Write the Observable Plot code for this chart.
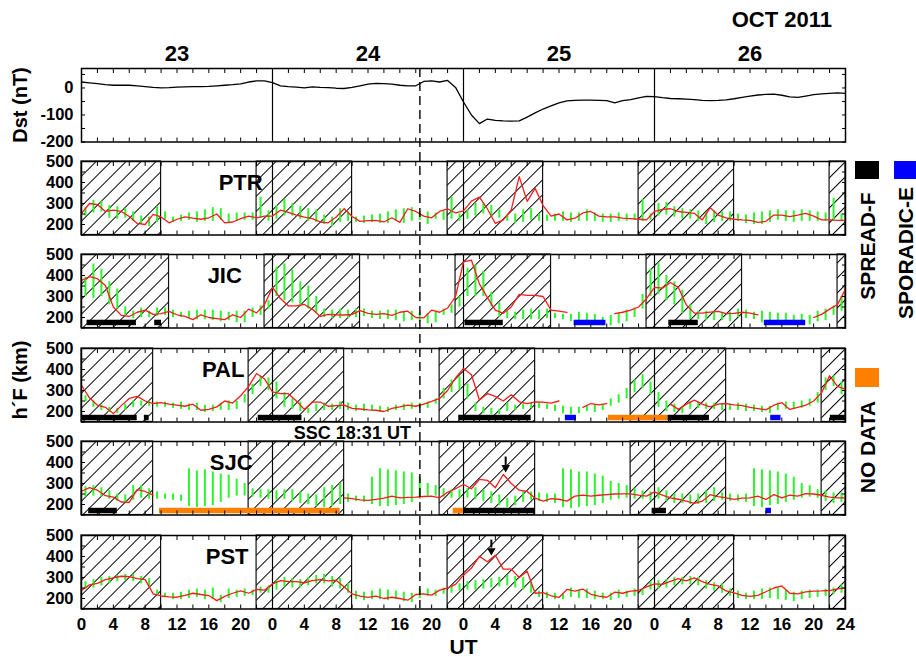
<!DOCTYPE html>
<html><head><meta charset="utf-8">
<script src="https://cdn.jsdelivr.net/npm/d3@7"></script>
<script src="https://cdn.jsdelivr.net/npm/@observablehq/plot@0.6"></script>
<style>
body{margin:0;background:#fff;}
#wrap{position:relative;width:916px;height:657px;overflow:hidden;background:#fff;font-family:"Liberation Sans",Arial,Helvetica,sans-serif;font-weight:bold;color:#000;}
.lab{position:absolute;white-space:nowrap;line-height:1;}
.rot{transform:translate(-50%,-50%) rotate(-90deg);}
.sw{position:absolute;}
</style></head><body><div id="wrap"></div>
<script>
// ---------------- DATA ----------------
const days = ["23", "24", "25", "26"];
const sscHour = 42.52; // 24 Oct 18:31 UT
const dayBounds = [24, 48, 72];

// Dst (nT), hourly 0..96
const dst = [22,19,16,12,10,10,10,8,5,2, 0,1,3,4,5,5,6,8,10,12, 15,22,26,26,20,8,5,3,0,4, 2,1,-1,-2,2,8,14,17,16,14,
 10,8,8,24,26,22,28,2,-52,-100, -132,-115,-120,-122,-123,-122,-108,-92,-78,-66, -55,-48,-46,-45,-45,-46,-47,-55,-47,-43,
 -37,-31,-32,-36,-39,-40,-41,-43,-46,-47, -46,-44,-40,-35,-30,-26,-24,-23,-27,-33, -35,-30,-25,-22,-20,-18,-20];

// PTR
const ptrRed = [253,300,295,262,268,262,238,205,200,248, 236,208,225,236,230,225,232,250,208,212, 228,240,232,240,240,268,258,245,235,228,
 212,208,236,275,238,215,218,220,212,232, 210,275,262,240,232,262,275,255,265,311, 330,275,205,222,270,428,310,372,290,240,
 250,222,230,255,262,240,236,236,230,228, 225,222,262,272,275,262,258,253,222,280, 245,232,225,222,220,210,215,245,245,238,
 245,253,240,222,222,220,220];
const ptrLo = [240,255,260,230,225,230,215,200,190,210, 225,210,215,220,210,215,215,220,205,215, 220,220,230,215,225,240,240,225,215,210,
 200,190,210,215,210,205,210,205,205,215, 205,215,220,200,225,220,225,215,225,240, 250,235,230,215,205,210,220,215,215,215,
 215,210,215,215,215,210,210,215,215,220, 215,220,240,245,235,225,225,215,200,210, 215,215,215,205,200,200,210,220,215,210,
 215,215,215,215,215,215];
const ptrHi = [280,315,310,290,285,275,260,240,235,285, 260,235,245,255,260,270,280,275,250,255, 255,255,330,265,290,320,300,285,275,270,
 245,235,275,260,235,240,245,250,260,270, 275,280,260,260,255,265,330,250,270,300, 300,290,270,245,250,270,275,250,245,250,
 260,255,255,270,255,250,250,255,250,250, 320,250,300,305,285,275,270,265,255,265, 260,260,250,245,255,260,265,270,265,265,
 270,265,260,255,325,250];
const ptrNight = [[0,10],[22,34],[46,58],[70,82],[94,96]];

// JIC
const jicRed = [376,395,385,352,250,210,205,225,235,215, 218,229,213,205,190,213,200,195,190,213, 200,240,222,262,343,290,255,255,262,240,
 205,215,213,212,215,233,220,215,218,210, 225,230,200,198,235,225,245,300,465,473, 360,295,235,220,250,310,305,305,300,235,
 230,224,null,null,null,null,null,218,225,235, 250,290,343,340,367,343,260,221,221,226, 229,218,220,225,221,213,null,null,null,null,
 null,null,200,215,240,262,335];
const jicLo = [300,290,300,260,240,205,195,200,200,205, 210,200,200,195,190,190,185,180,185,175, 175,200,210,240,300,280,270,250,240,220,
 200,195,195,195,200,205,195,190,190,185, 180,185,180,170,175,210,220,250,300,300, 300,250,200,195,190,190,190,190,195,195,
 190,180,175,175,170,160,160,170,180,200, 240,300,310,280,260,220,190,190,185,185, 185,180,200,195,190,175,175,175,170,165,
 165,165,180,185,210,230];
const jicHi = [390,455,430,370,335,250,230,245,230,245, 245,235,225,230,235,235,235,230,225,230, 230,245,255,280,440,455,425,370,350,300,
 240,235,240,235,240,240,230,230,235,235, 225,230,225,220,225,240,260,300,435,450, 420,320,270,230,225,235,240,235,240,220,
 215,215,225,220,215,200,210,220,235,245, 310,430,460,400,370,330,260,230,230,230, 225,225,240,235,225,230,225,220,220,210,
 215,210,230,240,255,300];
const jicNight = [[0,11],[23,35],[47,59],[71,83],[95,96]];
const jicSpreadF = [[0.7,6.9],[9.2,10.05],[48.2,53],[73.8,77.5]];
const jicSporadicE = [[61.9,65.9],[85.8,91]];
const jicNoData = [];

// PAL
const palRed = [325,265,230,220,190,228,262,272,250,238, 242,235,230,225,235,206,210,222,250,240, 275,320,381,355,293,285,285,250,210,245,
 245,225,228,230,215,212,208,206,200,215, 222,230,225,235,248,262,300,360,405,375, 255,285,272,250,280,246,238,246,245,240,
 250,null,null,220,238,232,238,null,null,null, null,null,null,null,235,210,235,254,235,222, 235,238,232,228,220,214,208,230,242,210,
 220,230,250,290,370,320,305];
const palLo = [245,220,205,195,190,205,220,225,225,220, 220,215,210,205,205,195,200,205,205,210, 240,280,320,300,260,220,210,200,190,200,
 205,205,210,205,200,200,200,195,195,205, 205,210,215,215,235,260,290,300,260,200, 190,185,185,200,205,210,215,215,210,200,
 190,185,190,200,195,205,225,240,260,290, 310,280,220,200,195,190,210,215,210,210, 205,205,205,200,200,195,190,205,210,210,
 215,225,240,300,320,280];
const palHi = [275,250,230,220,215,235,250,250,250,245, 245,240,245,235,240,230,230,240,250,250, 280,330,370,360,340,290,260,245,215,235,
 240,235,245,240,230,235,230,225,220,230, 235,240,240,245,260,310,350,365,330,240, 220,215,210,240,230,235,240,240,235,230,
 225,220,220,225,230,235,260,280,310,350, 375,340,290,250,235,225,245,245,240,240, 235,235,240,235,230,225,225,240,245,245,
 250,260,290,360,370,340];
const palNight = [[0,9],[21,33],[45,57],[69,81],[93,96]];
const palSpreadF = [[0,7],[7.9,8.5],[22.2,27.7],[47.4,56.5],[73.7,78.9],[94.1,96]];
const palSporadicE = [[60.8,62.2],[86.6,87.9]];
const palNoData = [[66.2,73.7]];

// SJC
const sjcRed = [263,280,268,242,235,212,210,271,262,245,
 null,null,null,null,null,null,null,null,null,null, null,null,null,null,null,null,null,null,null,null, null,null,null,
 232,228,222,220,224,230,240,
 232,234,235,238,240,232,258,275,295,275, 320,315,280,343,300,268,262,230,216,228, 225,216,240,245,240,244,247,250,251,251,
 245,240,260,245,232,225,216,205,216,247, 238,232,224,230,232,240,224,247,232,245, 240,252,250,244,235,232,232];
const sjcLo = [235,240,235,225,215,205,220,230,225,225, 225,220,215,190,185,190,195,210,230,240, 240,235,230,225,220,225,215,205,200,190,
 185,190,200,210,215,210,200,190,190,195, 200,210,225,240,240,235,230,230,230,225, 215,205,195,185,195,210,220,215,210,205,
 185,180,185,190,195,205,220,225,230,225, 225,215,225,215,205,205,200,200,205,215, 220,215,215,210,190,185,195,200,210,220,
 230,235,230,215,205,210];
const sjcHi = [285,290,280,265,250,245,290,290,275,260, 250,250,245,370,360,365,355,345,340,320, 300,275,270,270,265,270,270,260,250,245,
 280,290,300,250,240,240,330,370,365,360, 355,350,330,300,290,275,270,270,275,280, 270,260,245,230,240,260,260,255,250,250,
 370,365,355,355,345,335,310,300,290,275, 265,260,280,265,250,250,245,250,265,280, 255,250,245,250,370,365,360,355,345,330,
 300,290,270,265,255,255];
const sjcNight = [[0,9],[21,33],[45,57],[69,81],[93,96]];
const sjcSpreadF = [[0.9,4.5],[48,57],[71.7,73.5]];
const sjcSporadicE = [[86,86.7]];
const sjcNoData = [[9.8,32.5],[46.7,48]];
const sjcArrow = [{hour: 53.3, from: 426, to: 386, tip: 376}];

// PST
const pstRed = [238,265,272,290,298,306,304,295,290,222, 212,208,206,215,225,219,214,190,210,225, 236,225,243,240,270,285,280,280,275,285,
 290,284,287,255,222,211,205,211,200,206, 200,192,219,222,216,240,250,267,311,345, 401,375,406,340,340,300,330,225,228,213,
 205,243,235,245,220,211,206,230,225,235, 238,255,270,267,282,295,284,298,280,267, 260,236,227,215,210,215,232,250,260,225,
 222,232,235,236,238,246,251];
const pstLo = [245,250,260,270,280,285,280,270,255,215, 205,195,195,200,205,195,195,180,200,205, 210,215,225,225,240,255,250,250,260,270,
 270,255,245,225,195,190,195,195,190,195, 185,180,200,210,210,220,225,235,240,240, 245,250,255,260,250,240,225,205,200,195,
 195,205,200,200,195,195,190,200,205,210, 215,240,245,250,260,265,265,260,245,235, 225,210,200,195,195,195,200,195,190,185,
 195,200,205,210,220,225];
const pstHi = [280,290,300,305,310,315,315,305,295,240, 225,225,230,240,245,240,250,215,245,240, 245,240,255,260,285,300,295,290,300,310,
 315,305,295,270,235,230,235,245,240,235, 230,225,245,245,240,250,260,270,280,285, 290,295,300,310,305,300,275,235,230,225,
 220,250,240,245,235,225,225,240,235,245, 245,280,285,290,300,300,305,300,285,275, 270,245,235,225,235,245,250,250,240,230,
 235,240,240,245,250,265];
const pstNight = [[0,10],[22,34],[46,58],[70,82],[94,96]];
const pstArrow = [{hour: 51.5, from: 478, to: 440, tip: 428}];

const stationNames = ["PTR", "JIC", "PAL", "SJC", "PST"];
const hfLabels = [200, 300, 400, 500];
const dstLabels = [0, -100, -200];

// ---------------- STYLE / LAYOUT ----------------
const W = 916, ML = 81, MR = 71, PH = 73.5;
const FONT = '"Liberation Sans", Arial, Helvetica, sans-serif';
const GREEN = "#2bf52b", RED = "#ff1a1a", BLUE = "#0000ff", ORANGE = "#ff8000";
const hourTicks = d3.range(0, 97, 2);
const hfTicks = d3.range(150, 501, 50);
const dstTicks = d3.range(-200, 51, 50);
const wrap = document.getElementById("wrap");
const baseStyle = {background: "transparent", overflow: "visible", fontFamily: FONT, fontWeight: "bold", color: "#000"};

// hatch pattern definition
wrap.insertAdjacentHTML("beforeend",
  '<svg width="0" height="0" style="position:absolute"><defs><pattern id="hatch" patternUnits="userSpaceOnUse" width="10.6" height="10.6" patternTransform="rotate(45)"><line x1="0.5" y1="0" x2="0.5" y2="10.6" stroke="#000" stroke-width="1"/></pattern></defs></svg>');

function place(svg, top) {
  svg.style.position = "absolute";
  svg.style.left = "0px";
  svg.style.top = top + "px";
  svg.style.maxWidth = "none";
  wrap.appendChild(svg);
}
function frameMarks(yTicks) {
  return [
    Plot.frame({stroke: "#000", strokeWidth: 1.5}),
    Plot.axisX(hourTicks, {anchor: "bottom", tickSize: -4, tickFormat: () => "", label: null}),
    Plot.axisX(hourTicks, {anchor: "top", tickSize: -4, tickFormat: () => "", label: null}),
    Plot.axisY(yTicks, {anchor: "left", tickSize: -4, tickFormat: () => "", label: null}),
    Plot.axisY(yTicks, {anchor: "right", tickSize: -4, tickFormat: () => "", label: null})
  ];
}

// ---------------- Dst panel ----------------
{
  const top = 68;
  const pts = dst.map((v, h) => ({h, v}));
  const svg = Plot.plot({
    width: W, height: top + PH + 6, marginLeft: ML, marginRight: MR, marginTop: top, marginBottom: 6,
    style: baseStyle,
    x: {domain: [0, 96]},
    y: {domain: [-200, 72]},
    marks: [
      Plot.ruleX(dayBounds, {stroke: "#000", strokeWidth: 1.2}),
      Plot.line(pts, {x: "h", y: "v", stroke: "#000", strokeWidth: 1.3}),
      ...frameMarks(dstTicks),
      Plot.axisY(dstLabels, {anchor: "left", tickSize: 0, tickPadding: 8, tickFormat: d => String(d), fontSize: 16.5, label: null}),
      Plot.text(days, {x: (d, i) => i * 24 + 12, text: d => d, frameAnchor: "top", dy: -8, lineAnchor: "bottom", fontSize: 22}),
      Plot.text(["OCT 2011"], {x: 88, frameAnchor: "top", dy: -42, lineAnchor: "bottom", fontSize: 22})
    ]
  });
  place(svg, 0);
}

// ---------------- Station panels ----------------
const stations = [
  {red: ptrRed, lo: ptrLo, hi: ptrHi, night: ptrNight, sf: [], se: [], nd: [], nameX: 20, arrow: []},
  {red: jicRed, lo: jicLo, hi: jicHi, night: jicNight, sf: jicSpreadF, se: jicSporadicE, nd: jicNoData, nameX: 18, arrow: [], band: [161, 187]},
  {red: palRed, lo: palLo, hi: palHi, night: palNight, sf: palSpreadF, se: palSporadicE, nd: palNoData, nameX: 17.8, arrow: []},
  {red: sjcRed, lo: sjcLo, hi: sjcHi, night: sjcNight, sf: sjcSpreadF, se: sjcSporadicE, nd: sjcNoData, nameX: 18.8, arrow: sjcArrow},
  {red: pstRed, lo: pstLo, hi: pstHi, night: pstNight, sf: [], se: [], nd: [], nameX: 18.3, arrow: pstArrow}
];

stations.forEach((st, i) => {
  const top = 160.7 + 93.5 * i;
  const last = i === 4;
  const mt = 24, mb = last ? 52 : 8;
  const red = st.red.map((v, h) => ({h, v: v == null ? NaN : v}));
  const bars = st.lo.map((lo, k) => ({h: k + 0.5, lo, hi: st.hi[k]}));
  const band = st.band || [156, 182];
  const bandMarks = [[st.nd, ORANGE], [st.sf, "#000"], [st.se, BLUE]].map(([arr, c]) =>
    Plot.rect(arr, {x1: d => d[0], x2: d => d[1], y1: band[0], y2: band[1], fill: c}));
  const marks = [
    Plot.rect(st.night, {x1: d => d[0], x2: d => d[1], y1: 150, y2: 500, fill: "url(#hatch)", stroke: "#111", strokeWidth: 1.2}),
    Plot.ruleX(dayBounds, {stroke: "#000", strokeWidth: 1.2}),
    Plot.ruleX(bars, {x: "h", y1: "lo", y2: "hi", stroke: GREEN, strokeWidth: 2}),
    Plot.line(red, {x: "h", y: "v", stroke: RED, strokeWidth: 1.3}),
    ...bandMarks,
    ...frameMarks(hfTicks),
    Plot.axisY(hfLabels, {anchor: "left", tickSize: 0, tickPadding: 8, tickFormat: d => String(d), fontSize: 16.5, label: null}),
    Plot.text([stationNames[i]], {x: st.nameX, y: 400, lineAnchor: "middle", fontSize: 22}),
    Plot.ruleX(st.arrow, {x: "hour", y1: "from", y2: "to", stroke: "#000", strokeWidth: 2}),
    Plot.dot(st.arrow, {x: "hour", y: "tip", symbol: "triangle", rotate: 180, r: 3.2, fill: "#000", stroke: null})
  ];
  if (i === 3) marks.push(Plot.text(["SSC 18:31 UT"], {x: sscHour, frameAnchor: "top", textAnchor: "end", dx: -9, dy: -3, lineAnchor: "bottom", fontSize: 18}));
  if (last) {
    marks.push(Plot.axisX(d3.range(0, 97, 4), {anchor: "bottom", tickSize: 0, tickPadding: 9, tickFormat: d => d === 96 ? "24" : String(d % 24), fontSize: 17, label: null}));
    marks.push(Plot.text(["UT"], {x: 48, frameAnchor: "bottom", dy: 45, lineAnchor: "bottom", fontSize: 21}));
  }
  const svg = Plot.plot({
    width: W, height: mt + PH + mb, marginLeft: ML, marginRight: MR, marginTop: mt, marginBottom: mb,
    style: baseStyle,
    x: {domain: [0, 96]},
    y: {domain: [150, 500]},
    marks
  });
  place(svg, top - mt);
});

// ---------------- SSC dashed line overlay ----------------
{
  const top = 68, bottom = 160.7 + 93.5 * 4 + PH;
  const svg = Plot.plot({
    width: W, height: bottom - top, marginLeft: ML, marginRight: MR, marginTop: 0, marginBottom: 0,
    style: {...baseStyle, pointerEvents: "none"},
    x: {domain: [0, 96], axis: null},
    marks: [Plot.ruleX([sscHour], {stroke: "#000", strokeWidth: 1.4, strokeDasharray: "9,5"})]
  });
  place(svg, top);
}

// ---------------- labels & legend (HTML) ----------------
function label(text, cx, cy, size, rot) {
  const d = document.createElement("div");
  d.className = "lab" + (rot ? " rot" : "");
  d.textContent = text;
  d.style.fontSize = size + "px";
  d.style.left = cx + "px";
  d.style.top = cy + "px";
  if (!rot) d.style.transform = "translate(-50%,-50%)";
  wrap.appendChild(d);
}
function swatch(color, x, y, w, h) {
  const d = document.createElement("div");
  d.className = "sw";
  Object.assign(d.style, {left: x + "px", top: y + "px", width: w + "px", height: h + "px", background: color});
  wrap.appendChild(d);
}
label("Dst (nT)", 20, 105, 20, true);
label("h\u00b4F (km)", 20, 380, 20, true);
swatch("#000", 855, 161, 24, 18);
swatch(BLUE, 894, 161, 24, 18);
swatch(ORANGE, 855, 368, 24, 19);
label("SPREAD-F", 867, 246, 21, true);
label("SPORADIC-E", 905, 253, 21, true);
label("NO DATA", 867, 447, 21, true);
</script></body></html>
